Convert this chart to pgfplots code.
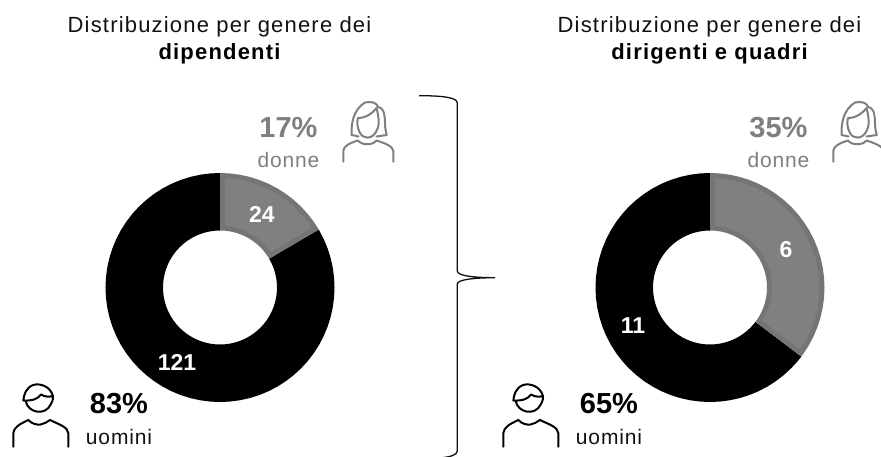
\documentclass[border=0pt]{standalone}
\usepackage{pgfplots}
\usepgfplotslibrary{polar}
\pgfplotsset{compat=1.18}
\usepackage{fontspec}
\setmainfont{Liberation Sans}
\newfontfamily\titlefont[LetterSpace=5.4]{Liberation Sans}
\newfontfamily\lblfont[LetterSpace=4]{Liberation Sans}
\definecolor{gfill}{HTML}{808080}
\definecolor{gedge}{HTML}{757575}
\definecolor{gtext}{HTML}{7F7F7F}
\definecolor{ink}{HTML}{111111}
\pgfplotsset{donut/.style={
  hide axis, scale only axis, width=229pt, height=229pt,
  xmin=0, xmax=360, ymin=0, ymax=114.5, clip=false, anchor=center}}
\newcommand{\woman}[2]{\begin{scope}[shift={(#1,0)},draw=#2,line width=2pt,line cap=round,line join=round]
 \draw (351.7,135) .. controls (351,124) and (353,110) .. (365,102.5) .. controls (372,101) and (377,103) .. (378,107) .. controls (385,108) and (385,118) .. (385,124) .. controls (385,128) and (386,132) .. (386.7,135) -- (376.5,136.5);
 \draw (351.7,135) -- (358.5,136.5);
 \draw (358,118) .. controls (366,118) and (373,113) .. (376.5,108) .. controls (379,118) and (380,126) .. (376,132) .. controls (372,139) and (363,140) .. (359.5,132) .. controls (357,127) and (357,122) .. (358,118);
 \draw (343.3,161.7) -- (343.3,151) .. controls (343.5,146) and (350,143) .. (358,140.5) .. controls (361,145) and (372,146) .. (376.5,140.5) .. controls (384,143) and (393,146) .. (393.3,151) -- (393.3,161.7);
\end{scope}}
\newcommand{\man}[2]{\begin{scope}[shift={(#1,0)},draw=#2,line width=2pt,line cap=round,line join=round]
 \draw (26,402) .. controls (28,412) and (45,417) .. (51,404) .. controls (53,400) and (53.5,398) .. (53,396) .. controls (50,386) and (40,383) .. (33,385) .. controls (26,388) and (24,394) .. (23.3,400.5) .. controls (32,401) and (38,399) .. (41,394.5) .. controls (45,397) and (49,397) .. (53,396);
 \draw (13.3,446.7) -- (13.3,433) .. controls (14,427) and (20,424) .. (28.3,420) .. controls (32,424) and (37,425) .. (40.5,424.5) .. controls (44,424) and (47,422) .. (50,420) .. controls (58,424) and (68,427) .. (68.3,433) -- (68.3,446.7);
\end{scope}}
\begin{document}
\begin{tikzpicture}[x=1pt,y=-1pt]
\path[use as bounding box] (0,0) rectangle (881,457);
\begin{polaraxis}[donut, at={(220pt,-287.5pt)}]
\addplot[fill=black,draw=none] coordinates {
(90,114.5)(95,114.5)(100,114.5)(105,114.5)(110,114.5)(115,114.5)(120,114.5)(125,114.5)(130,114.5)(135,114.5)(140,114.5)(145,114.5)(150,114.5)(155,114.5)(160,114.5)(165,114.5)(170,114.5)(175,114.5)(180,114.5)(185,114.5)(190,114.5)(195,114.5)(200,114.5)(205,114.5)(210,114.5)(215,114.5)(220,114.5)(225,114.5)(230,114.5)(235,114.5)(240,114.5)(245,114.5)(250,114.5)(255,114.5)(260,114.5)(265,114.5)(270,114.5)(275,114.5)(280,114.5)(285,114.5)(290,114.5)(295,114.5)(300,114.5)(305,114.5)(310,114.5)(315,114.5)(320,114.5)(325,114.5)(330,114.5)(335,114.5)(340,114.5)(345,114.5)(350,114.5)(355,114.5)(360,114.5)(365,114.5)(370,114.5)(375,114.5)(380,114.5)(385,114.5)(390.4,114.5)
(390.4,57)(385,57)(380,57)(375,57)(370,57)(365,57)(360,57)(355,57)(350,57)(345,57)(340,57)(335,57)(330,57)(325,57)(320,57)(315,57)(310,57)(305,57)(300,57)(295,57)(290,57)(285,57)(280,57)(275,57)(270,57)(265,57)(260,57)(255,57)(250,57)(245,57)(240,57)(235,57)(230,57)(225,57)(220,57)(215,57)(210,57)(205,57)(200,57)(195,57)(190,57)(185,57)(180,57)(175,57)(170,57)(165,57)(160,57)(155,57)(150,57)(145,57)(140,57)(135,57)(130,57)(125,57)(120,57)(115,57)(110,57)(105,57)(100,57)(95,57)(90,57)} -- cycle;
\addplot[fill=gedge,draw=none] coordinates {
(90,114.5)(85,114.5)(80,114.5)(75,114.5)(70,114.5)(65,114.5)(60,114.5)(55,114.5)(50,114.5)(45,114.5)(40,114.5)(35,114.5)(30.4,114.5)
(30.4,57)(35,57)(40,57)(45,57)(50,57)(55,57)(60,57)(65,57)(70,57)(75,57)(80,57)(85,57)(90,57)} -- cycle;
\addplot[fill=gfill,draw=none] coordinates {
(87.4,109.5)(85,109.5)(80,109.5)(75,109.5)(70,109.5)(65,109.5)(60,109.5)(55,109.5)(50,109.5)(45,109.5)(40,109.5)(35,109.5)(33,109.5)
(35,62)(40,62)(45,62)(50,62)(55,62)(60,62)(65,62)(70,62)(75,62)(80,62)(85.4,62)} -- cycle;
\end{polaraxis}
\begin{polaraxis}[donut, at={(710pt,-287.5pt)}]
\addplot[fill=black,draw=none] coordinates {
(90,114.5)(95,114.5)(100,114.5)(105,114.5)(110,114.5)(115,114.5)(120,114.5)(125,114.5)(130,114.5)(135,114.5)(140,114.5)(145,114.5)(150,114.5)(155,114.5)(160,114.5)(165,114.5)(170,114.5)(175,114.5)(180,114.5)(185,114.5)(190,114.5)(195,114.5)(200,114.5)(205,114.5)(210,114.5)(215,114.5)(220,114.5)(225,114.5)(230,114.5)(235,114.5)(240,114.5)(245,114.5)(250,114.5)(255,114.5)(260,114.5)(265,114.5)(270,114.5)(275,114.5)(280,114.5)(285,114.5)(290,114.5)(295,114.5)(300,114.5)(305,114.5)(310,114.5)(315,114.5)(320,114.5)(322.9,114.5)
(322.9,57)(320,57)(315,57)(310,57)(305,57)(300,57)(295,57)(290,57)(285,57)(280,57)(275,57)(270,57)(265,57)(260,57)(255,57)(250,57)(245,57)(240,57)(235,57)(230,57)(225,57)(220,57)(215,57)(210,57)(205,57)(200,57)(195,57)(190,57)(185,57)(180,57)(175,57)(170,57)(165,57)(160,57)(155,57)(150,57)(145,57)(140,57)(135,57)(130,57)(125,57)(120,57)(115,57)(110,57)(105,57)(100,57)(95,57)(90,57)} -- cycle;
\addplot[fill=gedge,draw=none] coordinates {
(90,114.5)(85,114.5)(80,114.5)(75,114.5)(70,114.5)(65,114.5)(60,114.5)(55,114.5)(50,114.5)(45,114.5)(40,114.5)(35,114.5)(30,114.5)(25,114.5)(20,114.5)(15,114.5)(10,114.5)(5,114.5)(0,114.5)(-5,114.5)(-10,114.5)(-15,114.5)(-20,114.5)(-25,114.5)(-30,114.5)(-35,114.5)(-37.1,114.5)
(-37.1,57)(-35,57)(-30,57)(-25,57)(-20,57)(-15,57)(-10,57)(-5,57)(0,57)(5,57)(10,57)(15,57)(20,57)(25,57)(30,57)(35,57)(40,57)(45,57)(50,57)(55,57)(60,57)(65,57)(70,57)(75,57)(80,57)(85,57)(90,57)} -- cycle;
\addplot[fill=gfill,draw=none] coordinates {
(87.4,109.5)(85,109.5)(80,109.5)(75,109.5)(70,109.5)(65,109.5)(60,109.5)(55,109.5)(50,109.5)(45,109.5)(40,109.5)(35,109.5)(30,109.5)(25,109.5)(20,109.5)(15,109.5)(10,109.5)(5,109.5)(0,109.5)(-5,109.5)(-10,109.5)(-15,109.5)(-20,109.5)(-25,109.5)(-30,109.5)(-34.5,109.5)
(-32.4,62)(-30,62)(-25,62)(-20,62)(-15,62)(-10,62)(-5,62)(0,62)(5,62)(10,62)(15,62)(20,62)(25,62)(30,62)(35,62)(40,62)(45,62)(50,62)(55,62)(60,62)(65,62)(70,62)(75,62)(80,62)(85.4,62)} -- cycle;
\end{polaraxis}
% titles
\node[text=ink] at (219.5,27) {\titlefont\fontsize{22pt}{24pt}\selectfont Distribuzione per genere dei};
\node[text=black] at (219.5,54) {\titlefont\fontsize{22pt}{24pt}\selectfont\bfseries dipendenti};
\node[text=ink] at (709.5,27) {\titlefont\fontsize{22pt}{24pt}\selectfont Distribuzione per genere dei};
\node[text=black] at (709.5,54) {\titlefont\fontsize{22pt}{24pt}\selectfont\bfseries dirigenti e quadri};
% slice values
\node[text=white] at (262,214.5) {\fontsize{23pt}{24pt}\selectfont\bfseries 24};
\node[text=white] at (177,362) {\fontsize{23pt}{24pt}\selectfont\bfseries 121};
\node[text=white] at (786,250) {\fontsize{23pt}{24pt}\selectfont\bfseries 6};
\node[text=white] at (633,326) {\fontsize{23pt}{24pt}\selectfont\bfseries 11};
% percentages
\node[text=gtext] at (288.5,128) {\fontsize{29pt}{30pt}\selectfont\bfseries 17\%};
\node[text=gtext] at (288.5,160) {\lblfont\fontsize{21pt}{24pt}\selectfont donne};
\node[text=gtext] at (778.5,128) {\fontsize{29pt}{30pt}\selectfont\bfseries 35\%};
\node[text=gtext] at (778.5,160) {\lblfont\fontsize{21pt}{24pt}\selectfont donne};
\node[text=black] at (119,404) {\fontsize{29pt}{30pt}\selectfont\bfseries 83\%};
\node[text=ink] at (119,437) {\lblfont\fontsize{21pt}{24pt}\selectfont uomini};
\node[text=black] at (609,404) {\fontsize{29pt}{30pt}\selectfont\bfseries 65\%};
\node[text=ink] at (609,437) {\lblfont\fontsize{21pt}{24pt}\selectfont uomini};
% icons
\woman{0}{gtext}
\woman{490}{gtext}
\man{0}{black}
\man{490}{black}
% brace
\draw[line width=1.3pt,color=ink] (419,95.7) .. controls (440,95.7) and (457.3,97) .. (457.3,103) -- (457.3,271) .. controls (457.3,276) and (475,277.7) .. (495,277.7) .. controls (475,277.7) and (457.3,279.5) .. (457.3,284) -- (457.3,451) .. controls (457.3,455) and (450,457) .. (440,458);
\end{tikzpicture}
\end{document}
